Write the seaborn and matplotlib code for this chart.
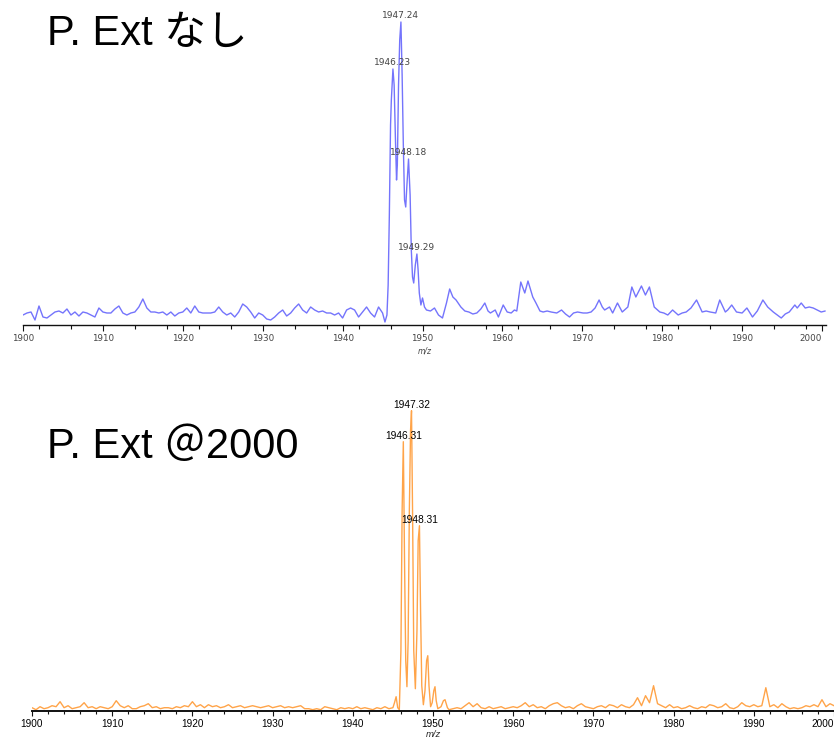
import numpy as np
import matplotlib.pyplot as plt
import seaborn as sns
from matplotlib.ticker import FixedLocator

sns.set_style('ticks')
plt.rcParams['font.family'] = ['Liberation Sans', 'Noto Sans CJK JP', 'DejaVu Sans']
plt.rcParams['text.color'] = 'black'

## top spectrum: P. Ext なし  (intensity in screen px above baseline)
top_left_start = 1900.0   # 0.5 m/z steps
top_left_int = [10, 12, 13, 5, 19, 8, 7, 10, 13, 14,
                12, 16, 10, 13, 9, 13, 12, 10, 8, 17,
                13, 12, 12, 16, 19, 12, 10, 12, 13, 18,
                26, 17, 13, 13, 12, 13, 10, 13, 9, 12,
                13, 17, 12, 19, 13, 12, 12, 12, 13, 18,
                13, 10, 12, 8, 13, 21, 18, 13, 7, 12,
                10, 6, 5, 8, 12, 15, 9, 12, 17, 21,
                15, 12, 18, 15, 13, 14, 12, 12, 10, 12,
                7, 15, 17, 15, 8, 13, 18, 12, 8, 18, 12]
top_peak_mz = [1945.3, 1945.55, 1945.7, 1945.85, 1946.0, 1946.1, 1946.3, 1946.45,
               1946.6, 1946.75, 1946.85, 1947.0, 1947.15, 1947.3, 1947.45, 1947.6,
               1947.75, 1947.9, 1948.05, 1948.25, 1948.45, 1948.6, 1948.75, 1948.9,
               1949.1, 1949.3, 1949.45, 1949.6, 1949.8, 1950.0, 1950.25, 1950.5]
top_peak_int = [3, 10, 40, 110, 200, 225, 256, 240,
                190, 145, 160, 240, 285, 303, 250, 180,
                125, 118, 140, 166, 130, 75, 48, 42,
                60, 71, 55, 32, 20, 27, 18, 15]
top_right_mz = [1951.0, 1951.5, 1952.0, 1952.5, 1953.0, 1953.4, 1953.8, 1954.2, 1954.8, 1955.3,
                1955.8, 1956.3, 1956.8, 1957.3, 1957.8, 1958.2, 1958.5, 1959.1, 1959.5, 1960.1,
                1960.6, 1961.1, 1961.5, 1961.8, 1962.3, 1962.8, 1963.2, 1963.8, 1964.2, 1964.7,
                1965.1, 1965.6, 1966.1, 1966.8, 1967.4, 1967.9, 1968.4, 1968.9, 1969.4, 1970.1,
                1970.6, 1971.1, 1971.6, 1972.1, 1972.5, 1972.8, 1973.4, 1973.8, 1974.4, 1975.0,
                1975.7, 1976.2, 1976.7, 1977.4, 1977.9, 1978.4, 1979.0, 1979.7, 1980.2, 1980.7,
                1981.3, 1982.0, 1982.5, 1983.0, 1983.6, 1984.3, 1985.0, 1985.5, 1986.0, 1986.7,
                1987.2, 1987.9, 1988.2, 1988.7, 1989.3, 1990.0, 1990.6, 1991.3, 1991.9, 1992.6,
                1993.2, 1993.9, 1994.4, 1994.9, 1995.4, 1995.9, 1996.6, 1996.9, 1997.4, 1997.9,
                1998.4, 1998.9, 1999.4, 1999.9, 2000.4]
top_right_int = [14, 17, 10, 7, 22, 36, 28, 25, 18, 14,
                 13, 11, 12, 16, 22, 14, 12, 15, 8, 20,
                 13, 12, 15, 14, 43, 32, 44, 28, 22, 14,
                 13, 14, 13, 12, 15, 11, 8, 12, 13, 12,
                 12, 13, 17, 25, 18, 15, 18, 12, 22, 13,
                 18, 38, 28, 39, 30, 38, 18, 13, 12, 10,
                 15, 10, 12, 13, 17, 25, 13, 14, 13, 12,
                 25, 13, 15, 20, 13, 12, 17, 8, 14, 25,
                 18, 13, 10, 7, 11, 13, 20, 17, 22, 17,
                 18, 17, 15, 13, 14]
top_labels = ['1946.23', '1947.24', '1948.18', '1949.29']
top_label_mz = [1946.3, 1947.3, 1948.25, 1949.3]
top_label_int = [256, 303, 166, 71]

## bottom spectrum: P. Ext @2000
bot_left_start = 1900.0   # 0.5 m/z steps
bot_left_int = [3, 1, 4, 2, 3, 5, 4, 9, 3, 5,
                2, 3, 4, 8, 3, 4, 2, 4, 3, 2,
                4, 10, 5, 3, 5, 2, 2, 4, 5, 7,
                3, 4, 2, 3, 3, 2, 4, 3, 5, 4,
                9, 4, 6, 3, 6, 4, 5, 3, 4, 6,
                3, 4, 5, 3, 4, 5, 4, 3, 4, 5,
                3, 4, 5, 3, 4, 3, 4, 5, 2, 2,
                1, 2, 1, 4, 3, 2, 1, 3, 2, 3,
                2, 4, 2, 3, 2, 1, 3, 2, 4, 2, 3]
bot_peak_mz = [1945.2, 1945.4, 1945.6, 1945.8, 1946.0, 1946.15, 1946.3, 1946.45, 1946.6,
               1946.75, 1946.9, 1947.05, 1947.2, 1947.32, 1947.45, 1947.6, 1947.8, 1948.0,
               1948.15, 1948.31, 1948.45, 1948.6, 1948.8, 1949.0, 1949.2, 1949.35, 1949.5,
               1949.7, 1949.9, 1950.1, 1950.25, 1950.4, 1950.6, 1950.8, 1951.0, 1951.3,
               1951.5, 1951.8, 1952.0]
bot_peak_int = [8, 14, 3, 1, 60, 200, 269, 150, 50,
                24, 70, 200, 280, 300, 200, 60, 22, 80,
                170, 185, 100, 25, 6, 20, 50, 55, 25,
                4, 8, 20, 24, 10, 2, 3, 4, 10,
                11, 3, 1]
bot_right_start = 1952.5  # 0.5 m/z steps
bot_right_int = [2, 3, 2, 5, 8, 4, 7, 3, 2, 4,
                 2, 3, 4, 2, 3, 4, 3, 5, 8, 4,
                 6, 3, 4, 2, 5, 7, 8, 5, 3, 4,
                 2, 5, 7, 4, 3, 2, 4, 5, 3, 6,
                 5, 3, 6, 4, 3, 6, 13, 5, 15, 8,
                 25, 7, 5, 3, 6, 3, 4, 2, 3, 5,
                 3, 2, 4, 3, 6, 5, 3, 4, 7, 3,
                 2, 4, 8, 5, 4, 6, 4, 5, 23, 4,
                 6, 3, 7, 4, 2, 3, 2, 3, 5, 4,
                 6, 4, 11, 4, 7, 5, 3]
bot_labels = ['1946.31', '1947.32', '1948.31']
bot_label_mz = [1946.3, 1947.32, 1948.31]
bot_label_int = [269, 300, 185]


def spectrum(left_start, left_int, mid_mz, mid_int, right_mz, right_int):
    mz = np.concatenate([left_start + 0.5 * np.arange(len(left_int)), mid_mz, right_mz])
    inten = np.concatenate([left_int, mid_int, right_int])
    return mz, inten


def style_axis(ax, xlim, size, color, tick_len, spine_w, minor):
    sns.despine(ax=ax, left=True)
    ax.set_yticks([])
    ax.set_xlim(*xlim)
    ax.set_xticks(np.arange(1900, 2001, 10))
    ax.xaxis.set_minor_locator(FixedLocator(minor))
    ax.spines['bottom'].set_linewidth(spine_w)
    ax.spines['bottom'].set_color('#111111')
    ax.tick_params(axis='x', which='major', length=tick_len, width=0.8, pad=2.5,
                   labelsize=size, labelcolor=color, color='#111111')
    ax.tick_params(axis='x', which='minor', length=tick_len * 0.7, width=0.8, color='#111111')
    ax.set_ylabel('')
    lbls = ax.get_xticklabels()
    lbls[-1].set_horizontalalignment('right')


fig = plt.figure(figsize=(8.34, 7.39), dpi=100)

# top panel
ax1 = fig.add_axes([23 / 834, 1 - 325 / 739, 803 / 834, 310 / 739])
mz1, int1 = spectrum(top_left_start, top_left_int, top_peak_mz, top_peak_int,
                     top_right_mz, top_right_int)
sns.lineplot(x=mz1, y=int1, ax=ax1, color='#7474FC', linewidth=1, estimator=None)
ax1.set_ylim(0, 310)
style_axis(ax1, (1900, 2000.5), 6.3, '#454545', 4, 1.0, np.arange(1902, 2001, 4))
for lbl in ax1.get_xticklabels():
    lbl.set_family('DejaVu Sans')
ax1.set_xlabel('m/z', fontstyle='italic', fontsize=5.5, color='#454545',
               family='DejaVu Sans', labelpad=2.5)
for t, x, y in zip(top_labels, top_label_mz, top_label_int):
    ax1.text(x, y + 2, t, ha='center', va='bottom', fontsize=6.5,
             color='#454545', family='DejaVu Sans')

# bottom panel
ax2 = fig.add_axes([32 / 834, 1 - 710.7 / 739, 802 / 834, 310.7 / 739])
mz2, int2 = spectrum(bot_left_start, bot_left_int, bot_peak_mz, bot_peak_int,
                     bot_right_start + 0.5 * np.arange(len(bot_right_int)), bot_right_int)
sns.lineplot(x=mz2, y=int2, ax=ax2, color='#FFA449', linewidth=1, estimator=None)
ax2.set_ylim(0, 310.7)
style_axis(ax2, (1900, 2000), 7.2, 'black', 3.5, 1.4, np.arange(1902, 2001, 2))
ax2.set_xlabel('m/z', fontstyle='italic', fontsize=6.8, labelpad=0.5)
for t, x, y in zip(bot_labels, bot_label_mz, bot_label_int):
    ax2.text(x, y + 1, t, ha='center', va='bottom', fontsize=7.4, color='black')

# panel titles
fig.text(47 / 834, 1 - 45 / 739, 'P. Ext なし', fontsize=30, va='baseline')
fig.text(47 / 834, 1 - 458 / 739, 'P. Ext ＠2000', fontsize=30, va='baseline')

fig.savefig('out.png', dpi=100)
